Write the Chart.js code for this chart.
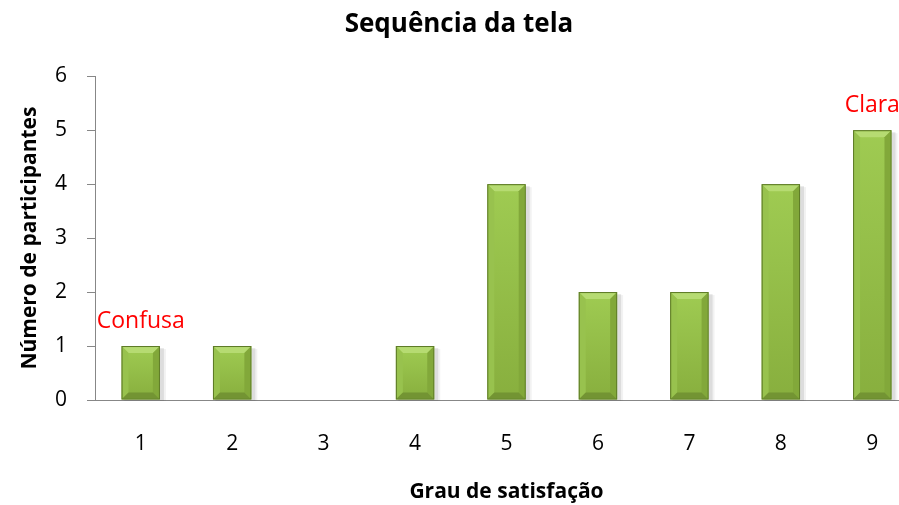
<!DOCTYPE html>
<html>
<head>
<meta charset="utf-8">
<script src="https://cdn.jsdelivr.net/npm/chart.js@4"></script>
<style>
  html, body { margin: 0; padding: 0; background: #fff; }
  #wrap { width: 899px; height: 505px; overflow: hidden; }
  canvas { display: block; }
</style>
</head>
<body>
<div id="wrap"><canvas id="chart" width="918" height="505"></canvas></div>
<script>
const categories = ["1", "2", "3", "4", "5", "6", "7", "8", "9"];
const participants = [1, 1, 0, 1, 4, 2, 2, 4, 5];
const yTicks = [0, 1, 2, 3, 4, 5, 6];
const notes = [
  { index: 0, value: 1.45, text: "Confusa" },
  { index: 8, value: 5.45, text: "Clara" },
];

const FONT = "'Open Sans', 'Liberation Sans', sans-serif";

// bevel look of the bars + their soft shadow
const bevelPlugin = {
  id: "bevel",
  beforeDatasetsDraw(chart) {
    const { ctx } = chart;
    const meta = chart.getDatasetMeta(0);
    ctx.save();
    for (const bar of meta.data) {
      const { x, y, base, width } = bar.getProps(["x", "y", "base", "width"], true);
      if (base - y < 1) continue;
      const left = x - width / 2;
      ctx.fillStyle = "rgba(0,0,0,0.09)";
      ctx.fillRect(left + 2, y + 2, width + 2, base - y - 1);
      ctx.fillStyle = "rgba(0,0,0,0.05)";
      ctx.fillRect(left + 3, y + 3, width + 3, base - y - 2);
    }
    ctx.restore();
  },
  afterDatasetsDraw(chart) {
    const { ctx } = chart;
    const meta = chart.getDatasetMeta(0);
    ctx.save();
    for (const bar of meta.data) {
      const { x, y, base, width } = bar.getProps(["x", "y", "base", "width"], true);
      const h = base - y;
      if (h < 1) continue;
      const l = x - width / 2 + 1;
      const r = x + width / 2 - 1;
      const t = y + 1;
      const b = base - 1;
      const bv = Math.min(6, h / 3);

      const grad = ctx.createLinearGradient(0, t, 0, b);
      grad.addColorStop(0, "#9fcb52");
      grad.addColorStop(1, "#88af3e");
      ctx.fillStyle = grad;
      ctx.fillRect(l, t, r - l, b - t);

      // top bevel
      ctx.fillStyle = "#b6db72";
      ctx.beginPath();
      ctx.moveTo(l, t); ctx.lineTo(r, t); ctx.lineTo(r - bv, t + bv); ctx.lineTo(l + bv, t + bv);
      ctx.closePath(); ctx.fill();
      // left bevel
      ctx.fillStyle = "#98c24e";
      ctx.beginPath();
      ctx.moveTo(l, t); ctx.lineTo(l + bv, t + bv); ctx.lineTo(l + bv, b - bv); ctx.lineTo(l, b);
      ctx.closePath(); ctx.fill();
      // right bevel
      ctx.fillStyle = "#82a83a";
      ctx.beginPath();
      ctx.moveTo(r, t); ctx.lineTo(r - bv, t + bv); ctx.lineTo(r - bv, b - bv); ctx.lineTo(r, b);
      ctx.closePath(); ctx.fill();
      // bottom bevel
      ctx.fillStyle = "#739433";
      ctx.beginPath();
      ctx.moveTo(l, b); ctx.lineTo(r, b); ctx.lineTo(r - bv, b - bv); ctx.lineTo(l + bv, b - bv);
      ctx.closePath(); ctx.fill();

      ctx.strokeStyle = "#5d7a27";
      ctx.lineWidth = 1;
      ctx.strokeRect(l - 0.5, t - 0.5, r - l + 1, b - t + 1);
    }

    // red labels
    const xs = chart.scales.x;
    const ys = chart.scales.y;
    ctx.fillStyle = "#ff0000";
    ctx.font = "23px " + FONT;
    ctx.textAlign = "center";
    ctx.textBaseline = "middle";
    for (const n of notes) {
      ctx.fillText(n.text, xs.getPixelForValue(n.index), ys.getPixelForValue(n.value));
    }
    ctx.restore();
  },
};

new Chart(document.getElementById("chart"), {
  type: "bar",
  data: {
    labels: categories,
    datasets: [{
      data: participants,
      backgroundColor: "#8fb843",
      borderWidth: 0,
      barPercentage: 0.7,
      categoryPercentage: 0.6,
    }],
  },
  options: {
    responsive: false,
    animation: false,
    layout: { padding: { left: 0, right: 0, top: 0, bottom: 0 } },
    plugins: {
      legend: { display: false },
      tooltip: { enabled: false },
      title: {
        display: true,
        text: "Sequência da tela",
        color: "#000",
        font: { family: FONT, size: 26, weight: "bold" },
        padding: { top: 9, bottom: 36 },
      },
    },
    scales: {
      x: {
        afterFit: (scale) => { scale.height = 105; },
        grid: { display: false, drawTicks: false },
        border: { color: "#878787", width: 1 },
        ticks: { color: "#000", font: { family: FONT, size: 21 }, padding: 31 },
        title: {
          display: true,
          text: "Grau de satisfação",
          color: "#000",
          font: { family: FONT, size: 21, weight: "bold" },
          padding: { top: 0, bottom: 0 },
        },
      },
      y: {
        min: 0,
        max: 6,
        afterFit: (scale) => { scale.width = 95; },
        afterBuildTicks: (scale) => { scale.ticks = yTicks.map((v) => ({ value: v })); },
        grid: { drawOnChartArea: false, tickLength: 8, color: "#878787" },
        border: { color: "#878787", width: 1 },
        ticks: { color: "#000", font: { family: FONT, size: 21 }, padding: 20 },
        title: {
          display: true,
          text: "Número de participantes",
          color: "#000",
          font: { family: FONT, size: 21, weight: "bold" },
          padding: { top: 17, bottom: 0 },
        },
      },
    },
  },
  plugins: [bevelPlugin],
});
</script>
</body>
</html>
